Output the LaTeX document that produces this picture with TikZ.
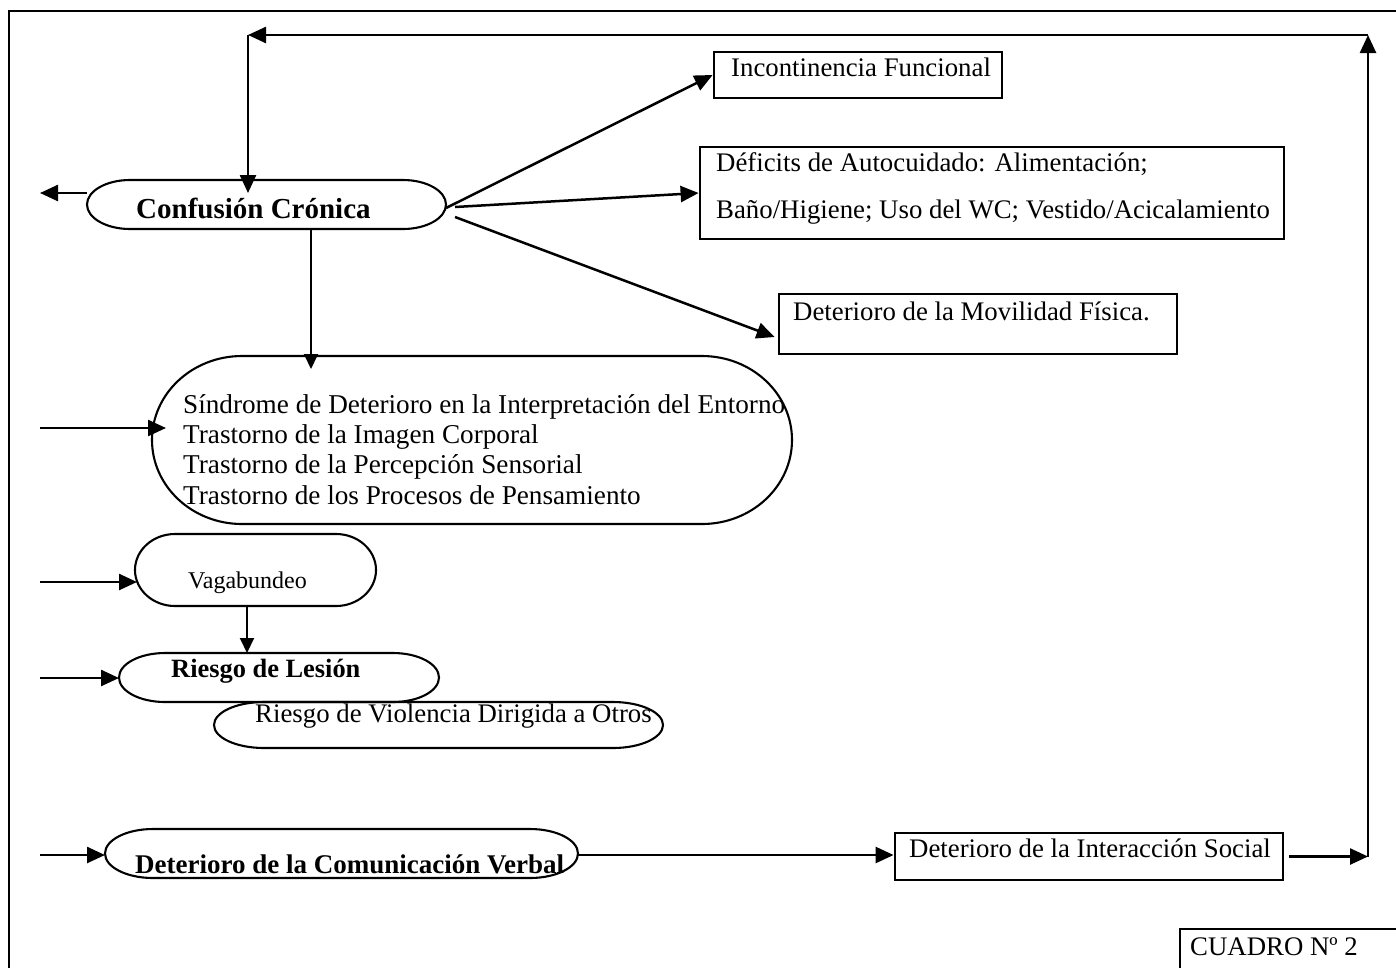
\documentclass[tikz,border=0pt]{standalone}
\usepackage{fontspec}
\setmainfont{Liberation Serif}
\usetikzlibrary{arrows.meta,calc}
\tikzset{
 arr/.style={line width=2.5pt,-{Triangle[length=18pt,width=16pt]}},
 sarr/.style={line width=1.9pt,-{Triangle[length=15pt,width=14pt]}},
 boxn/.style={draw,line width=2.8pt,inner sep=0pt},
 hold/.style={inner sep=0pt,outer sep=0pt},
 txt/.style={inner sep=0pt,anchor=base west,font=\fontsize{26.8}{30}\selectfont},
 btxt/.style={inner sep=0pt,anchor=base west,font=\fontsize{26.4}{30}\selectfont\bfseries},
}
\newcommand{\stadium}[3]{\draw[line width=2.1pt] ($(#1.north west)+(#2pt,0)$) -- ($(#1.north east)+(-#2pt,0)$) arc[start angle=90,end angle=-90,x radius=#2pt,y radius=#3pt] -- ($(#1.south west)+(#2pt,0)$) arc[start angle=270,end angle=90,x radius=#2pt,y radius=#3pt] -- cycle;}
\begin{document}
\begin{tikzpicture}[x=1pt,y=-1pt]
\useasboundingbox (0,0) rectangle (1396,967);
\clip (0,0) rectangle (1396,967);
\fill[white] (0,0) rectangle (1396,967);
% frame
\draw[line width=2pt] (9,990) -- (9,11) -- (1420,11);
% shapes
\node[hold,minimum width=359pt,minimum height=49pt] (conf) at (266.5,204.5) {};
\stadium{conf}{43}{24.5}
\node[hold,minimum width=640pt,minimum height=168pt] (sind) at (472,440) {};
\stadium{sind}{90}{84}
\node[hold,minimum width=241pt,minimum height=72pt] (vag) at (255.5,570) {};
\stadium{vag}{40}{36}
\node[hold,minimum width=320pt,minimum height=49pt] (les) at (279,677.5) {};
\stadium{les}{46}{24.5}
\node[hold,minimum width=449pt,minimum height=46pt] (vio) at (438.5,725) {};
\stadium{vio}{50}{23}
\node[hold,minimum width=473pt,minimum height=49pt] (com) at (341.5,853.5) {};
\stadium{com}{48}{24.5}
\node[boxn,minimum width=288pt,minimum height=46pt] (inc) at (858,75) {};
\node[boxn,minimum width=584pt,minimum height=92pt] (def) at (992,193) {};
\node[boxn,minimum width=398pt,minimum height=60pt] (mov) at (978,324) {};
\node[boxn,minimum width=388pt,minimum height=47pt] (inter) at (1089,856.5) {};
\node[boxn,minimum width=240pt,minimum height=60pt] (cuad) at (1300,959) {};
% texts
\node[btxt,font=\fontsize{29}{32}\selectfont\bfseries] (tconf) at (136,218) {Confusión Crónica};
\node[txt] (tinc) at (731,76) {Incontinencia Funcional};
\node[txt] (tdef1) at (716,171) {Déficits de Autocuidado: Alimentación;};
\node[txt] (tdef2) at (716,218) {Baño/Higiene; Uso del WC; Vestido/Acicalamiento};
\node[txt] (tmov) at (793,320) {Deterioro de la Movilidad Física.};
\node[txt,font=\fontsize{27.2}{30}\selectfont] (ts1) at (183,413) {Síndrome de Deterioro en la Interpretación del Entorno};
\node[txt,font=\fontsize{27.2}{30}\selectfont] (ts2) at (183,443) {Trastorno de la Imagen Corporal};
\node[txt,font=\fontsize{27.2}{30}\selectfont] (ts3) at (183,473) {Trastorno de la Percepción Sensorial};
\node[txt,font=\fontsize{27.2}{30}\selectfont] (ts4) at (183,504) {Trastorno de los Procesos de Pensamiento};
\node[txt,font=\fontsize{24}{28}\selectfont] (tvag) at (188,588) {Vagabundeo};
\node[btxt] (tles) at (171,677) {Riesgo de Lesión};
\node[txt] (tvio) at (255,722) {Riesgo de Violencia Dirigida a Otros};
\node[btxt,font=\fontsize{27}{30}\selectfont\bfseries] (tcom) at (135,873) {Deterioro de la Comunicación Verbal};
\node[txt] (tint) at (909,857) {Deterioro de la Interacción Social};
\node[txt] (tcua) at (1190,955) {CUADRO Nº 2};
% free ends
\coordinate (tl) at (248,35);
\coordinate (tr) at (1368,35);
\coordinate (ra) at (1368,856.5);
\coordinate (cL) at (40,193);
\coordinate (iS) at (40,428);
\coordinate (iV) at (40,582);
\coordinate (iL) at (40,678);
\coordinate (iC) at (40,855);
% connectors
\draw[arr] (tl) -- (tl |- cL);
\draw[arr] (conf.west |- cL) -- (cL);
\draw[arr] ($(conf.east)+(0,3.5)$) -- (inc.west);
\draw[arr] ($(conf.east)+(9,2.5)$) -- (def.west);
\draw[arr] ($(conf.east)+(9,12.5)$) -- ($(mov.west)+(-3,13)$);
\draw[sarr] ([xshift=44.5pt]conf.south) -- ([xshift=-161pt,yshift=-13pt]sind.north);
\draw[arr] (iS) -- ($(iS -| sind.west)+(14,0)$);
\draw[arr] (iV) -- ($(iV -| vag.west)+(2,0)$);
\draw[sarr] ([xshift=-8.5pt]vag.south) -- ([xshift=-32pt]les.north);
\draw[arr] (iL) -- (iL -| les.west);
\draw[arr] (iC) -- (iC -| com.west);
\draw[arr] (com.east |- iC) -- (iC -| inter.west);
\draw[arr] ($(inter.east)+(5,0)$) -- (ra);
\draw[arr] (ra) -- (tr);
\draw[arr] (tr) -- (tl);
\end{tikzpicture}
\end{document}
